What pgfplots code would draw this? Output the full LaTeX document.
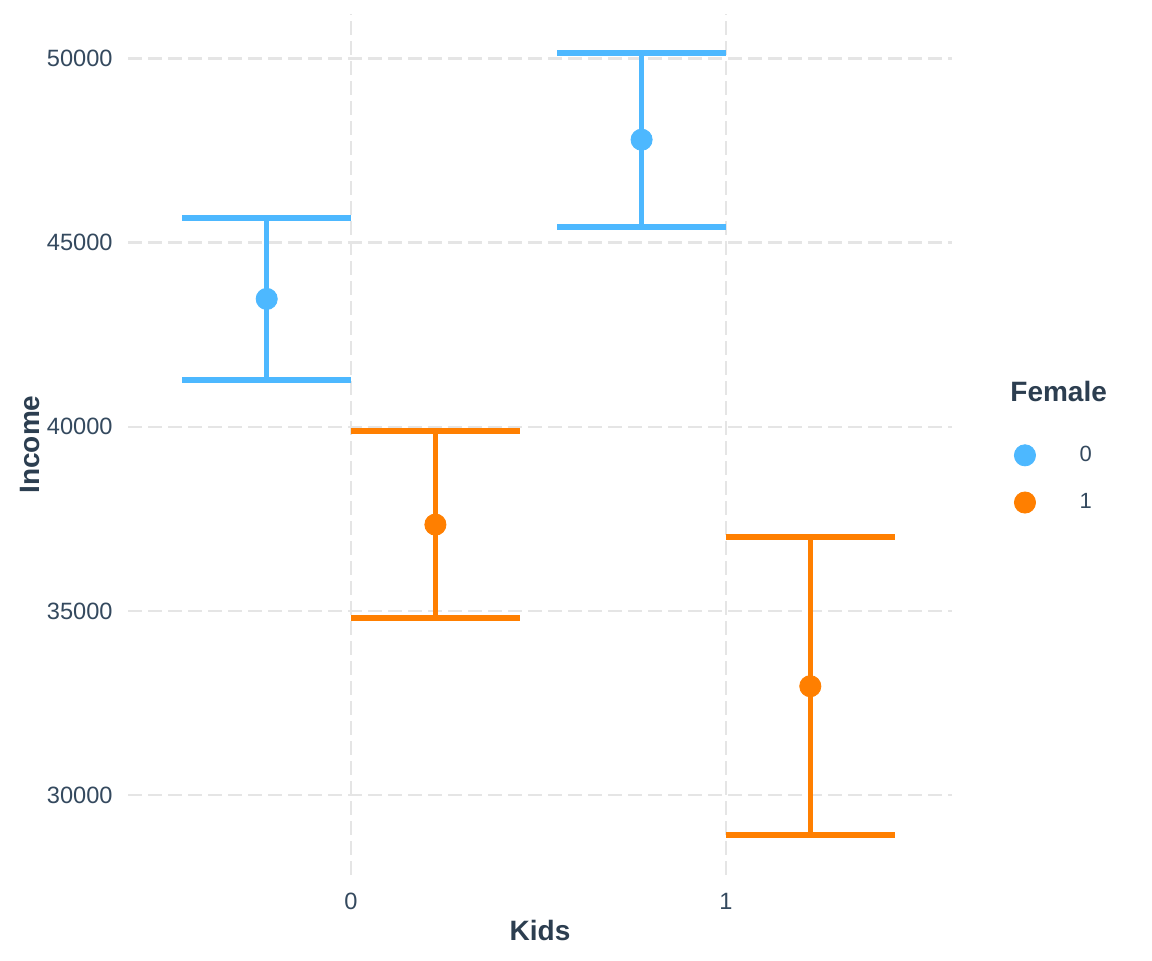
\documentclass[border=0pt]{standalone}
\usepackage{pgfplots}
\pgfplotsset{compat=1.18}
\usepackage{fontspec}
\setmainfont{Liberation Sans}

\definecolor{female0}{HTML}{4DB8FF}
\definecolor{female1}{HTML}{FF7F00}
\definecolor{titletext}{HTML}{2C3E50}
\definecolor{ticktext}{HTML}{34495E}
\definecolor{gridgray}{HTML}{E5E5E5}

\begin{document}
\begin{tikzpicture}
\path[use as bounding box] (-64pt,-42.5pt) rectangle (512pt,437.5pt);
\begin{axis}[
    scale only axis,
    width=412pt,
    height=430.5pt,
    xmin=-0.595, xmax=1.603,
    ymin=27826, ymax=51215,
    xtick={0,1},
    ytick={30000,35000,40000,45000,50000},
    scaled y ticks=false,
    axis line style={draw=none},
    major tick length=0pt,
    grid=major,
    grid style={gridgray, line width=1.3pt, dash pattern=on 7pt off 3pt},
    /pgf/number format/1000 sep={},
    /pgf/number format/assume math mode=true,
    ticklabel style={font=\fontsize{11.8}{13}\selectfont, text=ticktext, inner sep=0pt},
    yticklabel style={anchor=east, xshift=-7.5pt},
    xticklabel style={anchor=north, yshift=-9pt},
    clip=false,
    legend style={at={(1.0752,0.46)}, anchor=west, draw=none, fill=none,
        inner sep=0pt, row sep=13pt, column sep=22pt,
        font=\fontsize{11}{12}\selectfont, text=ticktext,
        nodes={inner sep=0pt}},
    legend cell align=left,
]

% Female = 0, dodged to the left
\addplot[
    only marks, mark=*, color=female0, mark size=5.3pt,
    error bars/.cd, y dir=both, y explicit,
    error bar style={line width=2.5pt, color=female0},
    error mark options={rotate=90, line width=2.85pt, mark size=42.19pt, color=female0}
    ]
    coordinates {
    (-0.225,43475) +- (0,2205)
    (0.775,47800) +- (0,2364)
    };

% Female = 1, dodged to the right
\addplot[
    only marks, mark=*, color=female1, mark size=5.3pt,
    error bars/.cd, y dir=both, y explicit,
    error bar style={line width=2.5pt, color=female1},
    error mark options={rotate=90, line width=2.85pt, mark size=42.19pt, color=female1}
    ]
    coordinates {
    (0.225,37345) +- (0,2540)
    (1.225,32954) +- (0,4049)
    };

\addlegendimage{only marks, mark=*, mark size=5.5pt, color=female0}
\addlegendentry{0}
\addlegendimage{only marks, mark=*, mark size=5.5pt, color=female1}
\addlegendentry{1}
\end{axis}

\node[rotate=90, text=titletext, font=\bfseries\fontsize{14}{16}\selectfont] at (-49pt,215.25pt) {Income};
\node[text=titletext, font=\bfseries\fontsize{14}{16}\selectfont] at (206pt,-27.5pt) {Kids};
\node[anchor=west, inner sep=0pt, text=titletext, font=\bfseries\fontsize{14}{16}\selectfont] at (441pt,242pt) {Female};
\end{tikzpicture}
\end{document}
